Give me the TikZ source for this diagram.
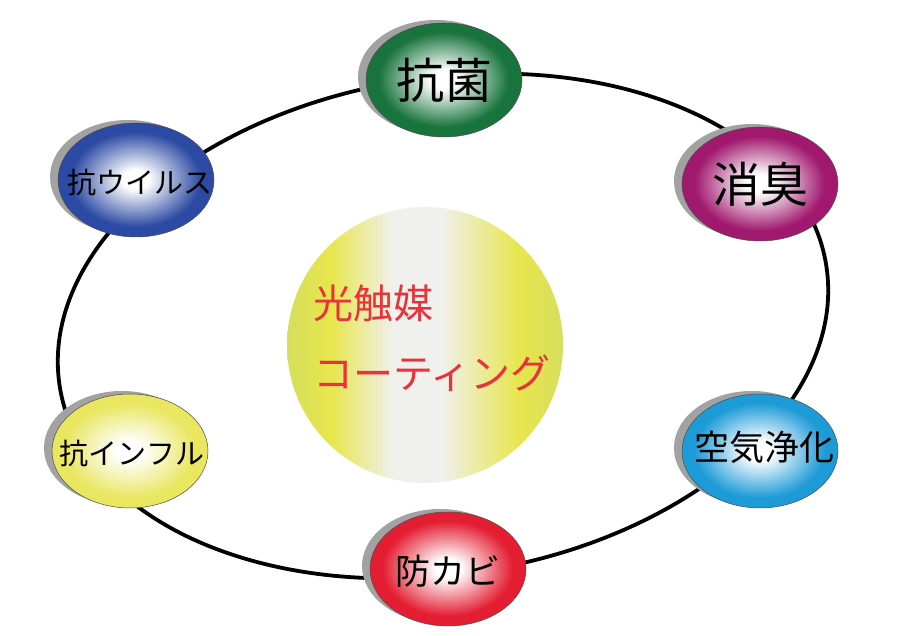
\documentclass[tikz,border=0pt]{standalone}
\usepackage{fontspec}
\usepackage{xcolor}
\usetikzlibrary{shapes.geometric}
\newfontfamily\jpfont{Noto Sans CJK JP}
\definecolor{kinGreen}{HTML}{18743C}
\definecolor{shuPurple}{HTML}{A0196E}
\definecolor{virBlue}{HTML}{2C4AA3}
\definecolor{fluYellow}{HTML}{E9E660}
\definecolor{airCyan}{HTML}{1D9BD7}
\definecolor{kabiRed}{HTML}{E41E32}
\definecolor{bubShadow}{HTML}{A2A2A2}
\definecolor{catEdge}{HTML}{D6DE5C}
\definecolor{catYellow}{HTML}{E7E64C}
\definecolor{catWhite}{HTML}{F0F0EC}
\definecolor{catText}{HTML}{E8323C}
\pgfdeclarehorizontalshading{photocat}{100bp}{color(0bp)=(catEdge); color(25bp)=(catEdge); color(33bp)=(catYellow); color(44bp)=(catWhite); color(53bp)=(catWhite); color(67bp)=(catYellow); color(75bp)=(catEdge); color(100bp)=(catEdge)}
\tikzset{
  bubble/.style={ellipse, draw=black!70, line width=0.5pt, inner sep=0pt,
    minimum width=156pt, minimum height=114pt, fill=#1},
  big/.style={inner sep=0pt, font=\jpfont\fontsize{48}{48}\selectfont},
  mid/.style={inner sep=0pt, font=\jpfont\fontsize{35}{35}\selectfont},
  small/.style={inner sep=0pt, font=\jpfont\fontsize{29}{29}\selectfont},
  cattext/.style={anchor=west, inner sep=0pt, text=catText, font=\jpfont\fontsize{40}{40}\selectfont}
}
\begin{document}
\begin{tikzpicture}[x=1pt,y=1pt]
  \useasboundingbox (0,0) rectangle (900,636);
  \draw[line width=3.8pt, rotate around={9:(443,310)}] (443,310) ellipse [x radius=388, y radius=248];
  \node[circle, minimum size=276pt, inner sep=0pt, shading=photocat] (catalyst) at (425,291) {};
  \node[cattext] (catA) at (313,333) {光触媒};
  \node[cattext] (catB) at (313,263) {コーティング};
  \foreach \x/\y in {444/556, 760/452, 136/456, 130/185, 760/185, 448/67}
    \fill[bubShadow] (\x-8,\y+3) ellipse [x radius=78, y radius=57];
  \node[bubble=kinGreen] (antibac) at (444,556) {};
  \node[bubble=shuPurple] (deodor) at (760,452) {};
  \node[bubble=virBlue] (antivirus) at (136,456) {};
  \node[bubble=fluYellow] (antiflu) at (130,185) {};
  \node[bubble=airCyan] (airclean) at (760,185) {};
  \node[bubble=kabiRed] (antimold) at (448,67) {};
  \foreach \n/\c in {antibac/kinGreen, deodor/shuPurple, antivirus/virBlue, antiflu/fluYellow, airclean/airCyan, antimold/kabiRed}
    \foreach \k in {1,...,35}{
      \pgfmathsetmacro\f{1-\k/36}
      \pgfmathsetmacro\pct{max(0,min(100,100*(\f-0.18)/0.67))}
      \fill[\c!\pct!white] (\n.center) ellipse [x radius={78pt*\f}, y radius={57pt*\f}];
    }
  \node[big] (antibacText) at (antibac) {抗菌};
  \node[big] (deodorText) at (deodor) {消臭};
  \node[small] (antivirusText) at ([xshift=4pt, yshift=-2pt]antivirus.center) {抗ウイルス};
  \node[small] (antifluText) at ([xshift=2pt, yshift=-2pt]antiflu.center) {抗インフル};
  \node[mid] (aircleanText) at ([xshift=4pt, yshift=4pt]airclean.center) {空気浄化};
  \node[mid] (antimoldText) at ([yshift=-2pt]antimold.center) {防カビ};
\end{tikzpicture}
\end{document}
